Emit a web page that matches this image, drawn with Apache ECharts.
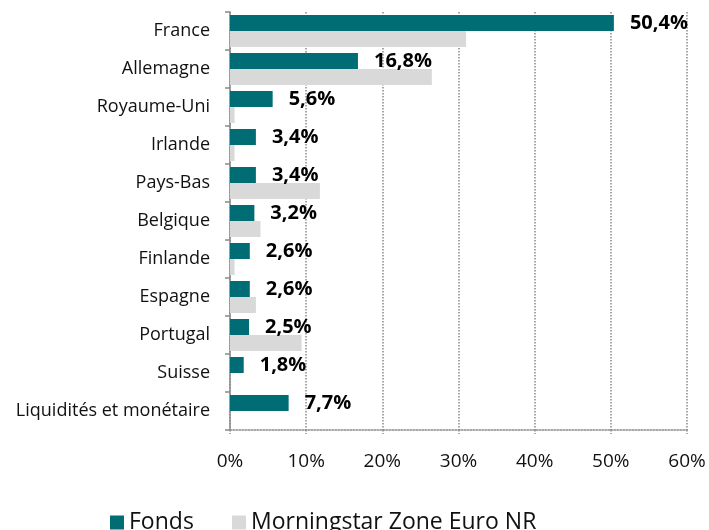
<!DOCTYPE html>
<html>
<head>
<meta charset="utf-8">
<script src="https://cdn.jsdelivr.net/npm/echarts@6/dist/echarts.min.js"></script>
<style>
  html, body { margin: 0; padding: 0; background: #fff; }
  #chart { width: 709px; height: 530px; }
</style>
</head>
<body>
<div id="chart"></div>
<script>
const categories = ['France', 'Allemagne', 'Royaume-Uni', 'Irlande', 'Pays-Bas', 'Belgique', 'Finlande', 'Espagne', 'Portugal', 'Suisse', 'Liquidités et monétaire'];
const fonds = [50.4, 16.8, 5.6, 3.4, 3.4, 3.2, 2.6, 2.6, 2.5, 1.8, 7.7];
const indice = [31.0, 26.5, 0.6, 0.6, 11.8, 4.0, 0.6, 3.4, 9.4, 0, 0];
const xTicks = [0, 10, 20, 30, 40, 50, 60];

const font = '"Open Sans", sans-serif';
const dom = document.getElementById('chart');
const myChart = echarts.init(dom);

const option = {
    animation: false,
    textStyle: { fontFamily: font },
    grid: { left: 230, right: 22, top: 12, bottom: 100 },
    legend: [
        {
            data: ['Fonds'], left: 105, top: 506,
            itemWidth: 14, itemHeight: 14, itemGap: 8,
            icon: 'rect',
            textStyle: { fontFamily: font, fontSize: 23, color: '#111' }
        },
        {
            data: ['Morningstar Zone Euro NR'], left: 227, top: 506,
            itemWidth: 14, itemHeight: 14, itemGap: 8,
            icon: 'rect',
            textStyle: { fontFamily: font, fontSize: 23, color: '#111' }
        }
    ],
    xAxis: {
        type: 'value',
        min: xTicks[0],
        max: xTicks[xTicks.length - 1],
        interval: 10,
        axisLine: { show: true, lineStyle: { color: '#8a8a8a', type: 'dotted', width: 1.5 } },
        axisTick: { show: true, length: 4, lineStyle: { color: '#8a8a8a', type: 'dotted', width: 1.5 } },
        splitLine: { show: true, lineStyle: { color: '#8a8a8a', type: 'dotted', width: 1.5 } },
        axisLabel: {
            formatter: '{value}%', fontFamily: font, fontSize: 19, color: '#111', margin: 22
        }
    },
    yAxis: {
        type: 'category',
        data: categories,
        inverse: true,
        axisLine: { show: true, lineStyle: { color: '#8a8a8a', width: 1.5 } },
        axisTick: { show: true, length: 5, lineStyle: { color: '#8a8a8a', width: 1.5 } },
        axisLabel: { fontFamily: font, fontSize: 18, color: '#111', margin: 20 }
    },
    series: [
        {
            name: 'Fonds',
            type: 'bar',
            data: fonds,
            barWidth: 16,
            barGap: '0%',
            itemStyle: { color: '#006D75' },
            label: {
                show: true,
                position: 'right',
                distance: 16,
                formatter: p => p.value.toFixed(1).replace('.', ',') + '%',
                fontFamily: font,
                fontSize: 20,
                fontWeight: 'bold',
                color: '#000'
            }
        },
        {
            name: 'Morningstar Zone Euro NR',
            type: 'bar',
            data: indice,
            barWidth: 16,
            barGap: '0%',
            itemStyle: { color: '#D9D9D9' }
        }
    ]
};

option && typeof option === 'object' && myChart.setOption(option, true);
</script>
</body>
</html>
